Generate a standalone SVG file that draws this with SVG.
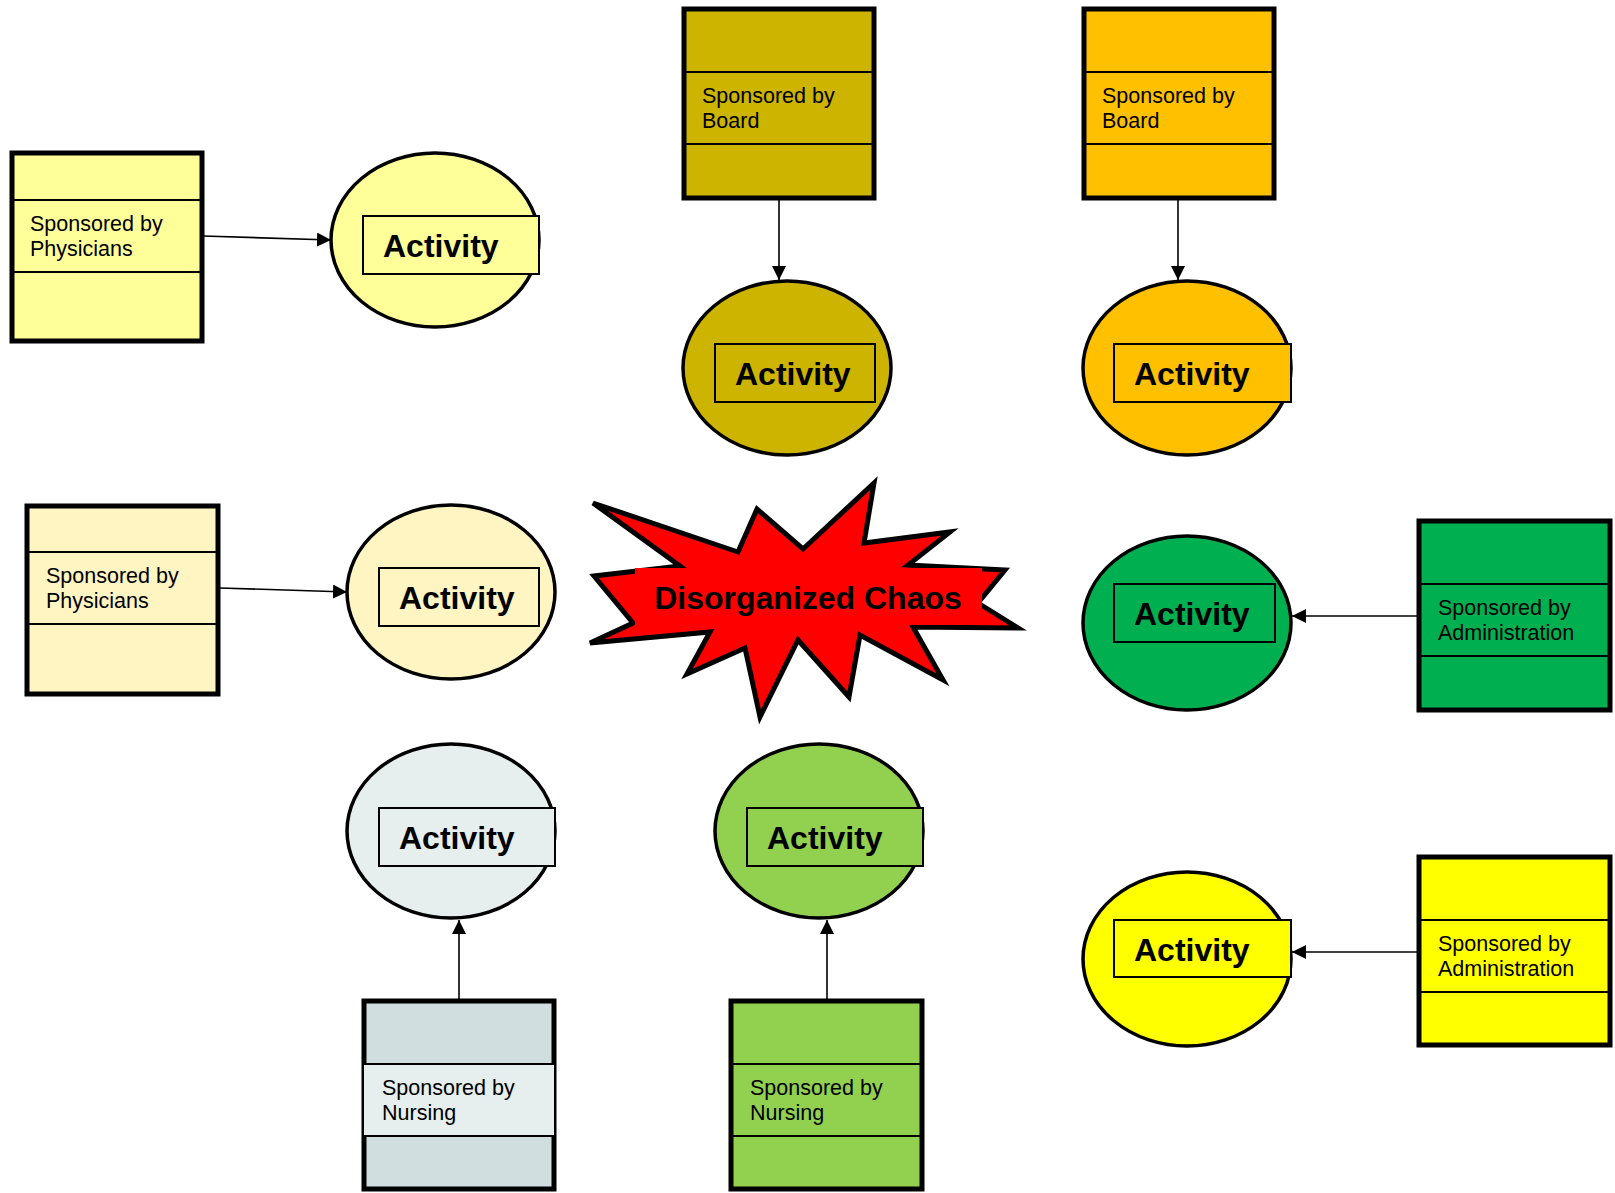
<svg xmlns="http://www.w3.org/2000/svg" width="1615" height="1193" viewBox="0 0 1615 1193">
<style>
.box{stroke:#000;stroke-width:5}
.div{stroke:#000;stroke-width:2}
.ell{stroke:#000;stroke-width:3.5}
.act{stroke:#000;stroke-width:2}
.st{font-family:"Liberation Sans",Arial,sans-serif;font-size:21.5px;fill:#000}
.at{font-family:"Liberation Sans",Arial,sans-serif;font-size:32px;font-weight:bold;fill:#000}
.con{stroke:#000;stroke-width:1.6;fill:none;marker-end:url(#arr)}
</style>
<defs>
<marker id="arr" markerUnits="userSpaceOnUse" markerWidth="14" markerHeight="14" refX="14" refY="7" orient="auto">
<path d="M0,0 L14,7 L0,14 z" fill="#000"/>
</marker>
</defs>
<rect width="1615" height="1193" fill="#fff"/>

<g id="connectors">
<line class="con" x1="203" y1="236" x2="331" y2="240"/>
<line class="con" x1="220" y1="588" x2="347" y2="592"/>
<line class="con" x1="779" y1="200" x2="779" y2="280"/>
<line class="con" x1="1178" y1="200" x2="1178" y2="280"/>
<line class="con" x1="1418" y1="616" x2="1292" y2="616"/>
<line class="con" x1="1418" y1="952" x2="1292" y2="952"/>
<line class="con" x1="459" y1="999" x2="459" y2="920"/>
<line class="con" x1="827" y1="999" x2="827" y2="920"/>
</g>

<g id="sponsor-physicians-1">
<rect class="box" x="12" y="153" width="190" height="188" fill="#FFFF99"/>
<line class="div" x1="12" y1="200" x2="202" y2="200"/>
<line class="div" x1="12" y1="272" x2="202" y2="272"/>
<text class="st" x="30" y="231">Sponsored by</text>
<text class="st" x="30" y="256">Physicians</text>
</g>
<g id="activity-physicians-1">
<ellipse class="ell" cx="435" cy="240" rx="104" ry="87" fill="#FFFF99"/>
<rect class="act" x="363" y="216" width="176" height="58" fill="#FFFF99"/>
<text class="at" x="383" y="257">Activity</text>
</g>

<g id="sponsor-board-1">
<rect class="box" x="684" y="9" width="190" height="189" fill="#CCB400"/>
<line class="div" x1="684" y1="72" x2="874" y2="72"/>
<line class="div" x1="684" y1="144" x2="874" y2="144"/>
<text class="st" x="702" y="103">Sponsored by</text>
<text class="st" x="702" y="128">Board</text>
</g>
<g id="activity-board-1">
<ellipse class="ell" cx="787" cy="368" rx="104" ry="87" fill="#CCB400"/>
<rect class="act" x="715" y="344" width="160" height="58" fill="#CCB400"/>
<text class="at" x="735" y="385">Activity</text>
</g>

<g id="sponsor-board-2">
<rect class="box" x="1084" y="9" width="190" height="189" fill="#FFC000"/>
<line class="div" x1="1084" y1="72" x2="1274" y2="72"/>
<line class="div" x1="1084" y1="144" x2="1274" y2="144"/>
<text class="st" x="1102" y="103">Sponsored by</text>
<text class="st" x="1102" y="128">Board</text>
</g>
<g id="activity-board-2">
<ellipse class="ell" cx="1187" cy="368" rx="104" ry="87" fill="#FFC000"/>
<rect class="act" x="1114" y="344" width="177" height="58" fill="#FFC000"/>
<text class="at" x="1134" y="385">Activity</text>
</g>

<g id="sponsor-physicians-2">
<rect class="box" x="27" y="506" width="191" height="188" fill="#FFF5C2"/>
<line class="div" x1="27" y1="552" x2="218" y2="552"/>
<line class="div" x1="27" y1="624" x2="218" y2="624"/>
<text class="st" x="46" y="583">Sponsored by</text>
<text class="st" x="46" y="608">Physicians</text>
</g>
<g id="activity-physicians-2">
<ellipse class="ell" cx="451" cy="592" rx="104" ry="87" fill="#FFF5C2"/>
<rect class="act" x="379" y="568" width="160" height="58" fill="#FFF5C2"/>
<text class="at" x="399" y="609">Activity</text>
</g>

<g id="chaos">
<polygon points="593,503 738,552 757,509 803,549 874,483 864,543 950,532 908,565 1005,570 978,603 1018,628 913,627 943,680 860,635 849,697 798,640 760,717 745,648 687,674 710,632 590,643 633,623 594,576 680,566" fill="#FF0000" stroke="#000" stroke-width="5" stroke-linejoin="miter"/>
<rect x="635" y="568" width="347" height="57" fill="#FF0000"/>
<text class="at" x="808" y="609" text-anchor="middle">Disorganized Chaos</text>
</g>

<g id="activity-administration-1">
<ellipse class="ell" cx="1187" cy="623" rx="104" ry="87" fill="#00B050"/>
<rect class="act" x="1114" y="584" width="161" height="58" fill="#00B050"/>
<text class="at" x="1134" y="625">Activity</text>
</g>
<g id="sponsor-administration-1">
<rect class="box" x="1419" y="521" width="191" height="189" fill="#00B050"/>
<line class="div" x1="1419" y1="584" x2="1610" y2="584"/>
<line class="div" x1="1419" y1="656" x2="1610" y2="656"/>
<text class="st" x="1438" y="615">Sponsored by</text>
<text class="st" x="1438" y="640">Administration</text>
</g>

<g id="activity-administration-2">
<ellipse class="ell" cx="1187" cy="959" rx="104" ry="87" fill="#FFFF00"/>
<rect class="act" x="1114" y="920" width="177" height="57" fill="#FFFF00"/>
<text class="at" x="1134" y="961">Activity</text>
</g>
<g id="sponsor-administration-2">
<rect class="box" x="1419" y="857" width="191" height="188" fill="#FFFF00"/>
<line class="div" x1="1419" y1="920" x2="1610" y2="920"/>
<line class="div" x1="1419" y1="992" x2="1610" y2="992"/>
<text class="st" x="1438" y="951">Sponsored by</text>
<text class="st" x="1438" y="976">Administration</text>
</g>

<g id="activity-nursing-1">
<ellipse class="ell" cx="451" cy="831" rx="104" ry="87" fill="#E6EEEE"/>
<rect class="act" x="379" y="808" width="176" height="58" fill="#E6EEEE"/>
<text class="at" x="399" y="849">Activity</text>
</g>
<g id="sponsor-nursing-1">
<rect class="box" x="364" y="1001" width="190" height="188" fill="#D1DEE0"/>
<rect x="364" y="1064" width="190" height="72" fill="#E6EEEE"/>
<line class="div" x1="364" y1="1064" x2="554" y2="1064"/>
<line class="div" x1="364" y1="1136" x2="554" y2="1136"/>
<text class="st" x="382" y="1095">Sponsored by</text>
<text class="st" x="382" y="1120">Nursing</text>
</g>

<g id="activity-nursing-2">
<ellipse class="ell" cx="819" cy="831" rx="104" ry="87" fill="#92D050"/>
<rect class="act" x="747" y="808" width="176" height="58" fill="#92D050"/>
<text class="at" x="767" y="849">Activity</text>
</g>
<g id="sponsor-nursing-2">
<rect class="box" x="731" y="1001" width="191" height="188" fill="#92D050"/>
<line class="div" x1="731" y1="1064" x2="922" y2="1064"/>
<line class="div" x1="731" y1="1136" x2="922" y2="1136"/>
<text class="st" x="750" y="1095">Sponsored by</text>
<text class="st" x="750" y="1120">Nursing</text>
</g>
</svg>
